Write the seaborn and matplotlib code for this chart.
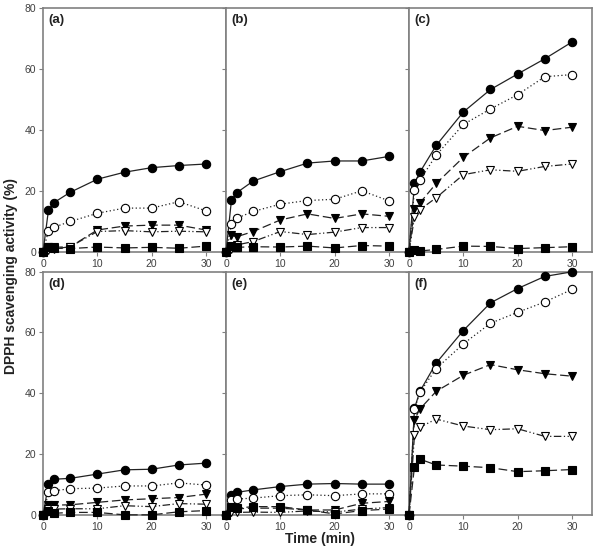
import numpy as np
import pandas as pd
import seaborn as sns
import matplotlib.pyplot as plt

# Temps de mesure (min)
time_min = [0, 1, 2, 5, 10, 15, 20, 25, 30]

# (a)
a_circle = [0, 13.7, 16.1, 19.5, 23.8, 26.1, 27.6, 28.3, 28.8]
a_ocircle = [0, 6.9, 8.0, 9.9, 12.6, 14.3, 14.3, 16.4, 13.4]
a_tri = [0, 1.4, 1.4, 1.6, 7.1, 8.4, 8.7, 8.7, 7.1]
a_otri = [0, 0.5, 0.9, 1.6, 6.6, 6.9, 6.5, 6.7, 6.5]
a_square = [0, 1.4, 1.1, 1.0, 1.5, 1.2, 1.4, 1.1, 1.8]

# (b)
b_circle = [0, 17.0, 19.4, 23.2, 26.3, 29.1, 29.8, 29.8, 31.3]
b_ocircle = [0, 9.1, 11.0, 13.2, 15.6, 16.8, 17.2, 20.0, 16.7]
b_tri = [0, 5.3, 4.9, 6.6, 10.4, 12.4, 10.9, 12.4, 11.6]
b_otri = [0, 1.0, 2.2, 3.3, 6.6, 5.6, 6.4, 7.9, 7.9]
b_square = [0, 2.0, 1.4, 1.6, 1.5, 1.8, 1.2, 2.0, 1.8]

# (c)
c_circle = [0, 22.4, 26.1, 34.9, 45.9, 53.3, 58.4, 63.4, 68.9]
c_ocircle = [0, 20.4, 23.5, 31.7, 41.8, 46.9, 51.6, 57.5, 58.2]
c_tri = [0, 14.1, 16.0, 22.4, 31.0, 37.4, 41.2, 39.8, 40.9]
c_otri = [0, 11.3, 13.8, 17.7, 25.3, 26.9, 26.4, 28.0, 28.8]
c_square = [0, 0.4, 0.2, 0.7, 1.8, 1.7, 1.0, 1.3, 1.6]

# (d)
d_circle = [0, 10.1, 11.7, 12.0, 13.4, 14.8, 15.0, 16.4, 17.0]
d_ocircle = [0, 7.4, 7.9, 8.6, 8.8, 9.5, 9.5, 10.5, 9.8]
d_tri = [0, 3.3, 3.2, 3.3, 4.1, 4.9, 5.3, 5.7, 6.8]
d_otri = [0, 2.0, 1.9, 2.0, 2.0, 3.0, 2.7, 3.7, 3.5]
d_square = [0, 1.2, 0.5, 0.8, 0.8, 0.0, 0.0, 1.0, 1.4]

# (e)
e_circle = [0, 6.6, 7.4, 8.2, 9.3, 10.1, 10.3, 10.1, 10.1]
e_ocircle = [0, 4.9, 5.2, 5.5, 6.3, 6.6, 6.3, 6.9, 6.9]
e_tri = [0, 2.2, 2.0, 2.2, 2.2, 1.6, 1.6, 3.8, 4.4]
e_otri = [0, 0.8, 0.8, 0.9, 0.8, 1.3, 0.9, 1.9, 2.4]
e_square = [0, 2.7, 2.2, 2.7, 2.7, 1.6, 0.3, 1.4, 1.9]

# (f)
f_circle = [0, 35.0, 40.6, 49.9, 60.6, 69.7, 74.4, 78.4, 79.9]
f_ocircle = [0, 34.7, 40.3, 48.1, 56.2, 63.0, 66.6, 70.0, 74.1]
f_tri = [0, 31.3, 34.8, 40.6, 45.9, 49.4, 47.7, 46.4, 45.6]
f_otri = [0, 26.1, 28.8, 31.5, 29.2, 28.0, 28.3, 25.8, 25.8]
f_square = [0, 15.8, 18.3, 16.4, 16.0, 15.5, 14.2, 14.5, 14.9]

panel_labels = ['(a)', '(b)', '(c)', '(d)', '(e)', '(f)']
panels = [
    [a_circle, a_ocircle, a_tri, a_otri, a_square],
    [b_circle, b_ocircle, b_tri, b_otri, b_square],
    [c_circle, c_ocircle, c_tri, c_otri, c_square],
    [d_circle, d_ocircle, d_tri, d_otri, d_square],
    [e_circle, e_ocircle, e_tri, e_otri, e_square],
    [f_circle, f_ocircle, f_tri, f_otri, f_square],
]

# Style de chaque série : marqueur, remplissage, trait
styles = [
    dict(marker='o', markerfacecolor='black', linestyle='-'),
    dict(marker='o', markerfacecolor='white', linestyle=(0, (1, 2))),
    dict(marker='v', markerfacecolor='black', linestyle=(0, (7, 3))),
    dict(marker='v', markerfacecolor='white', linestyle=(0, (6, 2, 1, 2, 1, 2))),
    dict(marker='s', markerfacecolor='black', linestyle=(0, (7, 3))),
]

sns.set_style('ticks')
plt.rcParams['font.family'] = ['Liberation Sans', 'DejaVu Sans']

fig, axes = plt.subplots(2, 3, figsize=(5.98, 5.53), dpi=100, sharey=True)
fig.subplots_adjust(left=0.072, right=0.99, top=0.985, bottom=0.069,
                    wspace=0, hspace=0.082)

for ax, label, series in zip(axes.flat, panel_labels, panels):
    for values, st in zip(series, styles):
        df = pd.DataFrame({'t': time_min, 'v': values})
        sns.lineplot(data=df, x='t', y='v', ax=ax, errorbar=None,
                     color='#222222', linewidth=0.9, markersize=6,
                     markeredgecolor='black', markeredgewidth=0.8,
                     clip_on=False, zorder=3, **st)
    ax.set_xlim(0, 33.7)
    ax.set_ylim(0, 80)
    ax.set_xticks([0, 10, 20, 30])
    ax.set_yticks([0, 20, 40, 60, 80])
    ax.set_xlabel('')
    ax.set_ylabel('')
    for sp in ax.spines.values():
        sp.set_visible(True)
        sp.set_color('#808080')
        sp.set_linewidth(1.2)
    ax.tick_params(direction='out', length=3, width=0.8, color='#808080',
                   labelsize=7.5, labelcolor='#404040', pad=2)
    ax.text(0.03, 0.975, label, transform=ax.transAxes, ha='left', va='top',
            fontsize=9.5, fontweight='bold', color='#222222')

fig.text(0.018, 0.5, 'DPPH scavenging activity (%)', rotation=90,
         ha='center', va='center', fontsize=10, fontweight='bold', color='#222222')
fig.text(0.535, 0.012, 'Time (min)', ha='center', va='bottom',
         fontsize=10, fontweight='bold', color='#222222')

fig.savefig('out.png', dpi=100)
